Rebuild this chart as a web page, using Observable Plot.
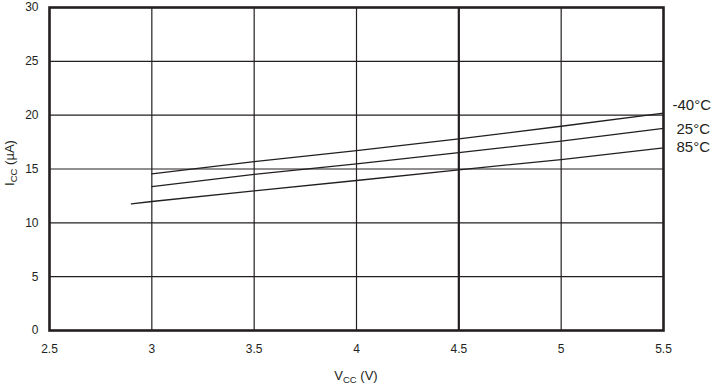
<!DOCTYPE html>
<html>
<head>
<meta charset="utf-8">
<script src="https://cdn.jsdelivr.net/npm/d3@7"></script>
<script src="https://cdn.jsdelivr.net/npm/@observablehq/plot@0.6"></script>
<style>
  html, body { margin: 0; padding: 0; background: #fff; }
  #chart { width: 714px; height: 386px; }
  svg text { font-family: "Liberation Sans", Arial, Helvetica, sans-serif; }
</style>
</head>
<body>
<div id="chart"></div>
<script>
// Data
const vccM40 = [3, 3.5, 4, 4.5, 5, 5.5];
const iccM40 = [14.55, 15.69, 16.71, 17.8, 18.97, 20.18];
const vcc25 = [3, 3.5, 4, 4.5, 5, 5.5];
const icc25 = [13.37, 14.51, 15.48, 16.53, 17.58, 18.78];
const vcc85 = [2.9, 3, 3.5, 4, 4.5, 5, 5.5];
const icc85 = [11.76, 11.98, 12.97, 13.93, 14.92, 15.88, 16.96];
const seriesNames = ["-40°C", "25°C", "85°C"];
const xTicks = [2.5, 3, 3.5, 4, 4.5, 5, 5.5];
const yTicks = [0, 5, 10, 15, 20, 25, 30];
const xGrid = [3, 3.5, 4, 5];
const xHeavy = [4.5];
const yGrid = [5, 10, 15, 20, 25];

const rows = [];
vccM40.forEach((v, i) => rows.push({series: seriesNames[0], vcc: v, icc: iccM40[i]}));
vcc25.forEach((v, i) => rows.push({series: seriesNames[1], vcc: v, icc: icc25[i]}));
vcc85.forEach((v, i) => rows.push({series: seriesNames[2], vcc: v, icc: icc85[i]}));
const endOf = s => rows.filter(r => r.series === s).slice(-1);

const ink = "#231f20";
const plot = Plot.plot({
  width: 714,
  height: 386,
  marginLeft: 49,
  marginRight: 51,
  marginTop: 7,
  marginBottom: 56,
  style: {fontFamily: "Liberation Sans, Arial, sans-serif", fontSize: "12px", color: ink, background: "#fff"},
  x: {domain: [2.5, 5.5], ticks: xTicks, tickFormat: d => String(d), label: null},
  y: {domain: [0, 30], ticks: yTicks, tickFormat: d => String(d), label: null},
  marks: [
    Plot.ruleX(xGrid, {stroke: ink, strokeWidth: 1.2}),
    Plot.ruleX(xHeavy, {stroke: ink, strokeWidth: 2.2}),
    Plot.ruleY(yGrid, {stroke: ink, strokeWidth: 1.2}),
    Plot.line(rows, {x: "vcc", y: "icc", z: "series", stroke: ink, strokeWidth: 1.3}),
    Plot.frame({stroke: ink, strokeWidth: 2.6}),
    Plot.axisX({ticks: xTicks, tickSize: 0, tickPadding: 14, fontSize: 12, tickFormat: d => String(d)}),
    Plot.axisY({ticks: yTicks, tickSize: 0, tickPadding: 11, fontSize: 12, tickFormat: d => String(d)}),
    Plot.text(endOf(seriesNames[0]), {x: "vcc", y: "icc", text: "series", dx: 9, dy: -8, textAnchor: "start", fontSize: 15, fill: ink}),
    Plot.text(endOf(seriesNames[1]), {x: "vcc", y: "icc", text: "series", dx: 13, dy: 0.5, textAnchor: "start", fontSize: 15, fill: ink}),
    Plot.text(endOf(seriesNames[2]), {x: "vcc", y: "icc", text: "series", dx: 13, dy: -1, textAnchor: "start", fontSize: 15, fill: ink})
  ]
});
document.getElementById("chart").appendChild(plot);

const svg = d3.select(plot);
// axis titles with subscripts
const xl = svg.append("text")
  .attr("x", 356).attr("y", 380)
  .attr("text-anchor", "middle")
  .attr("font-size", 13).attr("fill", ink);
xl.append("tspan").text("V");
xl.append("tspan").attr("font-size", 9.5).attr("dy", 3).text("CC");
xl.append("tspan").attr("dy", -3).text(" (V)");

const yl = svg.append("text")
  .attr("transform", "translate(14,163) rotate(-90)")
  .attr("text-anchor", "middle")
  .attr("font-size", 13).attr("fill", ink);
yl.append("tspan").text("I");
yl.append("tspan").attr("font-size", 9.5).attr("dy", 3).text("CC");
yl.append("tspan").attr("dy", -3).text(" (µA)");
</script>
</body>
</html>
